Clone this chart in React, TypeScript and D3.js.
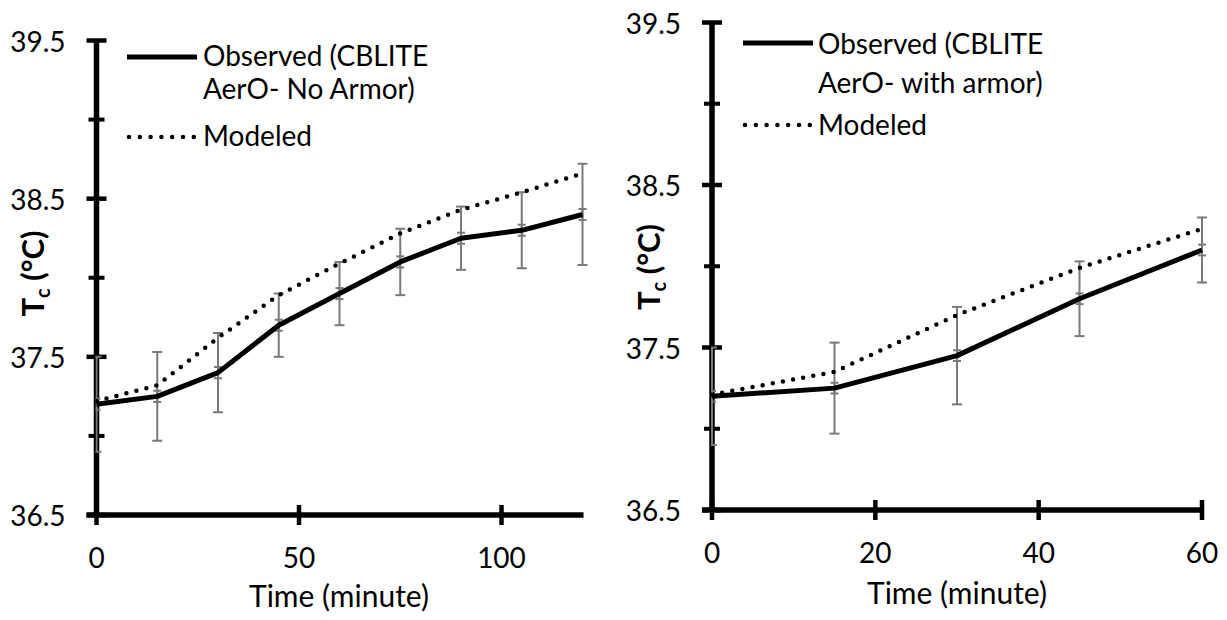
import React from "react";
import * as d3 from "d3";

// Core temperature over time, CBLITE AerO without armor
const timeNoArmor = [0, 15, 30, 45, 60, 75, 90, 105, 120];
const observedNoArmor = [37.2, 37.25, 37.4, 37.7, 37.9, 38.1, 38.25, 38.3, 38.4];
const modeledNoArmor = [37.22, 37.32, 37.62, 37.89, 38.09, 38.28, 38.43, 38.54, 38.66];
const sdNoArmor = [0.3, 0.28, 0.25, 0.2, 0.2, 0.21, 0.2, 0.24, 0.32];
const seNoArmor = [0.035, 0.035, 0.035, 0.035, 0.035, 0.035, 0.035, 0.035, 0.035];

// Core temperature over time, CBLITE AerO with armor
const timeArmor = [0, 15, 30, 45, 60];
const observedArmor = [37.2, 37.25, 37.45, 37.8, 38.1];
const modeledArmor = [37.21, 37.35, 37.7, 37.99, 38.23];
const sdArmor = [0.3, 0.28, 0.3, 0.23, 0.2];
const seArmor = [0.033, 0.033, 0.033, 0.033, 0.033];

const yMajorTicks = [36.5, 37.5, 38.5, 39.5];
const yMinorTicks = [37, 38, 39];
const xTicksNoArmor = [0, 50, 100];
const xTicksArmor = [0, 20, 40, 60];

const legendNoArmor = ["Observed (CBLITE", "AerO- No Armor)", "Modeled"];
const legendArmor = ["Observed (CBLITE", "AerO- with armor)", "Modeled"];

const FONT = "Lato, 'Open Sans', sans-serif";
const FS = 28;
const GREY = "#7a7a7a";

type PanelProps = {
  id: string;
  times: number[];
  observed: number[];
  modeled: number[];
  sd: number[];
  se: number[];
  xMax: number;
  xTicks: number[];
  xEndTick: boolean;
  x0: number;
  x1: number;
  yTop: number;
  yBot: number;
  legend: string[];
  legendLine: [number, number];
  solidY: number;
  dotY: number;
  textX: number;
  baselines: number[];
  titleX: number;
  titleY: number;
  yLabX: number;
  yLabY: number;
  xLabY: number;
};

function Panel(p: PanelProps) {
  const x = d3.scaleLinear().domain([0, p.xMax]).range([p.x0, p.x1]);
  const y = d3.scaleLinear().domain([36.5, 39.5]).range([p.yBot, p.yTop]);
  const line = d3
    .line<number>()
    .x((_, i) => x(p.times[i]))
    .y((d) => y(d));

  const errBar = (t: number, v: number, e: number, cap: number, key: string) => {
    const cx = x(t);
    const ya = y(v + e);
    const yb = y(v - e);
    return (
      <g key={key} stroke={GREY} strokeWidth={2}>
        <line x1={cx} x2={cx} y1={ya} y2={yb} />
        <line x1={cx - cap} x2={cx + cap} y1={ya} y2={ya} />
        <line x1={cx - cap} x2={cx + cap} y1={yb} y2={yb} />
      </g>
    );
  };

  return (
    <g fontFamily={FONT} fontSize={FS} fill="#000">
      <defs>
        <clipPath id={`clip-${p.id}`}>
          <rect x={p.x0 - 1} y={0} width={p.x1 - p.x0 + 20} height={620} />
        </clipPath>
      </defs>

      {/* axes */}
      <line x1={p.x0} x2={p.x0} y1={p.yTop} y2={p.yBot} stroke="#000" strokeWidth={5.5} />
      <line x1={p.x0 - 10} x2={p.x1 + 1} y1={p.yBot} y2={p.yBot} stroke="#000" strokeWidth={5.5} />
      {yMajorTicks.map((t) => (
        <g key={`ym${t}`}>
          <line x1={p.x0 - 10} x2={p.x0 + 10} y1={y(t)} y2={y(t)} stroke="#000" strokeWidth={4.5} />
          <text x={p.x0 - 31} y={y(t)} textAnchor="end" dominantBaseline="central">
            {d3.format(".1f")(t)}
          </text>
        </g>
      ))}
      {yMinorTicks.map((t) => (
        <line key={`yn${t}`} x1={p.x0 - 8} x2={p.x0 + 8} y1={y(t)} y2={y(t)} stroke="#000" strokeWidth={4} />
      ))}
      {p.xTicks.map((t) => (
        <g key={`x${t}`}>
          {(t < p.xMax || p.xEndTick) && (
            <line x1={x(t)} x2={x(t)} y1={p.yBot - 10} y2={p.yBot + 10} stroke="#000" strokeWidth={4.5} />
          )}
          <text x={x(t)} y={p.xLabY} textAnchor="middle" dominantBaseline="central">
            {t}
          </text>
        </g>
      ))}

      {/* axis titles */}
      <text x={p.titleX} y={p.titleY} textAnchor="middle" fontSize={30}>
        Time (minute)
      </text>
      <text
        transform={`translate(${p.yLabX},${p.yLabY}) rotate(-90)`}
        textAnchor="middle"
        fontWeight="bold"
        fontSize={31}
      >
        T<tspan fontSize={20} dy={6}>c</tspan>
        <tspan dy={-6}> (°C)</tspan>
      </text>

      {/* error bars and series */}
      <g clipPath={`url(#clip-${p.id})`}>
        {p.times.map((t, i) => errBar(t, p.observed[i], p.sd[i], 5, `sd${i}`))}
        {p.times.map((t, i) => errBar(t, p.observed[i], p.se[i], 4, `se${i}`))}
        <path
          d={line(p.modeled) || ""}
          fill="none"
          stroke="#000"
          strokeWidth={4.5}
          strokeDasharray="0 10.3"
          strokeLinecap="round"
        />
        <path
          d={line(p.observed) || ""}
          fill="none"
          stroke="#000"
          strokeWidth={5}
          strokeLinejoin="round"
        />
      </g>

      {/* legend */}
      <line
        x1={p.legendLine[0]}
        x2={p.legendLine[1]}
        y1={p.solidY}
        y2={p.solidY}
        stroke="#000"
        strokeWidth={5}
      />
      <line
        x1={p.legendLine[0] + 2}
        x2={p.legendLine[1]}
        y1={p.dotY}
        y2={p.dotY}
        stroke="#000"
        strokeWidth={4.5}
        strokeDasharray="0 10.8"
        strokeLinecap="round"
      />
      {p.legend.map((s, i) => (
        <text key={s} x={p.textX} y={p.baselines[i]}>
          {s}
        </text>
      ))}
    </g>
  );
}

export default function App() {
  return (
    <svg
      width={1227}
      height={620}
      style={{ position: "absolute", left: 0, top: 0, background: "#fff" }}
    >
      <rect width={1227} height={620} fill="#fff" />
      <Panel
        id="noarmor"
        times={timeNoArmor}
        observed={observedNoArmor}
        modeled={modeledNoArmor}
        sd={sdNoArmor}
        se={seNoArmor}
        xMax={120}
        xTicks={xTicksNoArmor}
        xEndTick={false}
        x0={96.5}
        x1={582.5}
        yTop={40.5}
        yBot={515}
        legend={legendNoArmor}
        legendLine={[127, 197]}
        solidY={57}
        dotY={137}
        textX={203}
        baselines={[66, 99, 146]}
        titleX={339}
        titleY={607}
        yLabX={44}
        yLabY={273.5}
        xLabY={557}
      />
      <Panel
        id="armor"
        times={timeArmor}
        observed={observedArmor}
        modeled={modeledArmor}
        sd={sdArmor}
        se={seArmor}
        xMax={60}
        xTicks={xTicksArmor}
        xEndTick={true}
        x0={712}
        x1={1202}
        yTop={22.5}
        yBot={510}
        legend={legendArmor}
        legendLine={[743, 813]}
        solidY={43}
        dotY={125}
        textX={818}
        baselines={[54, 93, 135]}
        titleX={957}
        titleY={604}
        yLabX={660}
        yLabY={267}
        xLabY={552}
      />
    </svg>
  );
}
